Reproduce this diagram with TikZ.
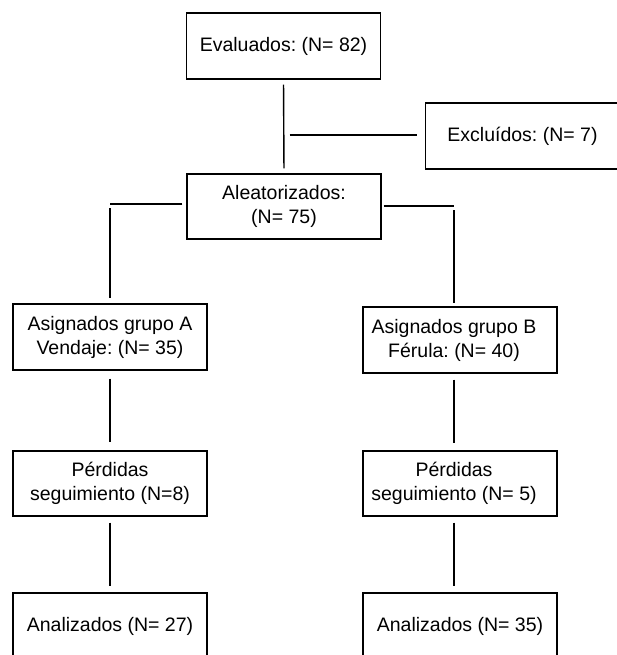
\documentclass[tikz,border=0pt]{standalone}
\usepackage{fontspec}
\setmainfont{Liberation Sans}
\frenchspacing
\begin{document}
\begin{tikzpicture}[x=1pt,y=-1pt,
  box/.style={draw=black, line width=1.4pt, rectangle, inner sep=0pt,
    minimum width=194pt, minimum height=66pt, align=center,
    font=\fontsize{19.5}{24}\selectfont\frenchspacing},
  txt/.style={inner sep=0pt, align=center, font=\fontsize{19.5}{24}\selectfont\frenchspacing},
  conn/.style={draw=black, line width=1.4pt}]
\useasboundingbox (0,0) rectangle (616,655);
% boxes
\node[box] (eval) at (283.5,46) {Evaluados: (N= 82)};
\node[box] (excl) at (522.5,136) {Excluídos: (N= 7)};
\node[box, minimum height=65pt] (alea) at (284,206.5) {Aleatorizados:\\(N= 75)};
\node[box] (ga) at (110,337) {Asignados grupo A\\Vendaje: (N= 35)};
\node[box] (gb) at (460,340) {};
\node[txt] (gbt) at (454,340) {Asignados grupo B\\Férula: (N= 40)};
\node[box, minimum height=65pt] (pa) at (110,483.5) {Pérdidas\\seguimiento (N=8)};
\node[box, minimum height=65pt] (pb) at (460,483.5) {};
\node[txt] (pbt) at (454,483.5) {Pérdidas\\seguimiento (N= 5)};
\node[box] (ana) at (110,626) {Analizados (N= 27)};
\node[box] (anb) at (460,626) {Analizados (N= 35)};
% junction coordinates
\coordinate (jx) at (283.5,135);
\coordinate (cl) at (110,204);
\coordinate (cr) at (454,206);
% connectors
\draw[conn, shorten <=5pt, shorten >=5pt] (eval.south) -- (alea.north);
\draw[conn, shorten <=6pt, shorten >=8pt] (jx) -- (jx -| excl.west);
\draw[conn, shorten <=4pt] (alea.west |- cl) -- (cl);
\draw[conn, shorten <=4pt, shorten >=5pt] (cl) -- (ga.north);
\draw[conn, shorten <=2pt] (alea.east |- cr) -- (cr);
\draw[conn, shorten <=4pt, shorten >=3pt] (cr) -- (cr |- gb.north);
\draw[conn, shorten <=8pt, shorten >=8pt] (ga.south) -- (pa.north);
\draw[conn, shorten <=6pt, shorten >=7pt] (cr |- gb.south) -- (cr |- pb.north);
\draw[conn, shorten <=6pt, shorten >=6pt] (pa.south) -- (ana.north);
\draw[conn, shorten <=6pt, shorten >=6pt] (cr |- pb.south) -- (cr |- anb.north);
\end{tikzpicture}
\end{document}
